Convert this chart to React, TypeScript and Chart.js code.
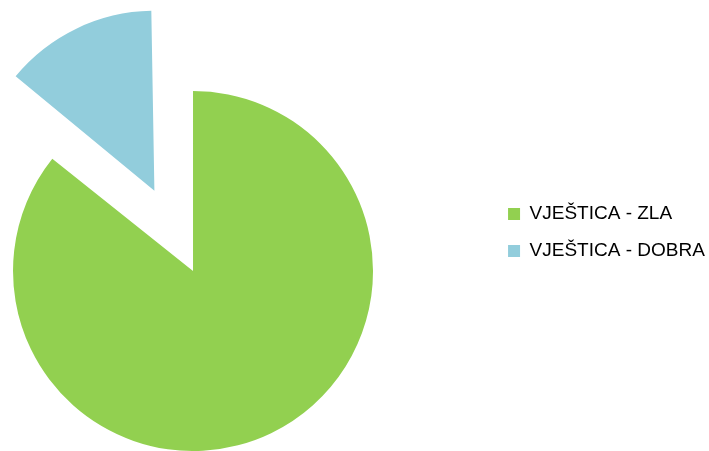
import React, { useEffect, useRef } from "react";
import { Chart, registerables } from "chart.js";

Chart.register(...registerables);

const categories = ["VJEŠTICA - ZLA", "VJEŠTICA - DOBRA"];
const values = [6, 1];
const colors = ["#92D050", "#92CDDC"];
const explode = [0, 356];

// Chart.js enlarges an exploded arc's radius; undo that so every slice keeps the same radius.
const keepRadiusPlugin = {
  id: "keepRadius",
  afterDatasetUpdate(chart: any, args: any) {
    const meta = args.meta;
    meta.data.forEach((arc: any) => {
      const off = ((arc.options && arc.options.offset) || 0) / 4;
      if (!off) return;
      const fix = 1 - Math.sin(Math.min(Math.PI, arc.circumference || 0));
      arc.outerRadius = arc.outerRadius - off * fix;
    });
  },
};

export default function App() {
  const ref = useRef<HTMLCanvasElement | null>(null);

  useEffect(() => {
    if (!ref.current) return;
    const chart = new Chart(ref.current, {
      type: "pie",
      data: {
        labels: categories,
        datasets: [
          {
            data: values,
            backgroundColor: colors,
            borderWidth: 0,
            offset: explode,
            clip: false as any,
          },
        ],
      },
      plugins: [keepRadiusPlugin],
      options: {
        responsive: false,
        animation: false,
        radius: 180,
        layout: { padding: { left: 0, right: -5.8, top: 14, bottom: 0 } },
        plugins: {
          title: {
            display: true,
            text: "",
            position: "top",
            fullSize: false,
            font: { size: 10, lineHeight: 1 },
            padding: { top: 67, bottom: 0 },
          },
          subtitle: {
            display: true,
            text: "",
            position: "right",
            fullSize: false,
            weight: 500,
            font: { size: 10, lineHeight: 1 },
            padding: { top: 94, bottom: 0 },
          },
          legend: {
            display: true,
            position: "right",
            align: "center",
            maxWidth: 320,
            labels: {
              boxWidth: 12,
              boxHeight: 12,
              padding: 18,
              color: "#000",
              font: { family: "Liberation Sans", size: 19 },
            },
          },
          tooltip: { enabled: false },
        },
      },
    });
    return () => chart.destroy();
  }, []);

  return (
    <div style={{ position: "fixed", left: 0, top: 0, width: 709, height: 451, background: "#fff" }}>
      <canvas ref={ref} width={709} height={451} style={{ display: "block" }} />
    </div>
  );
}
